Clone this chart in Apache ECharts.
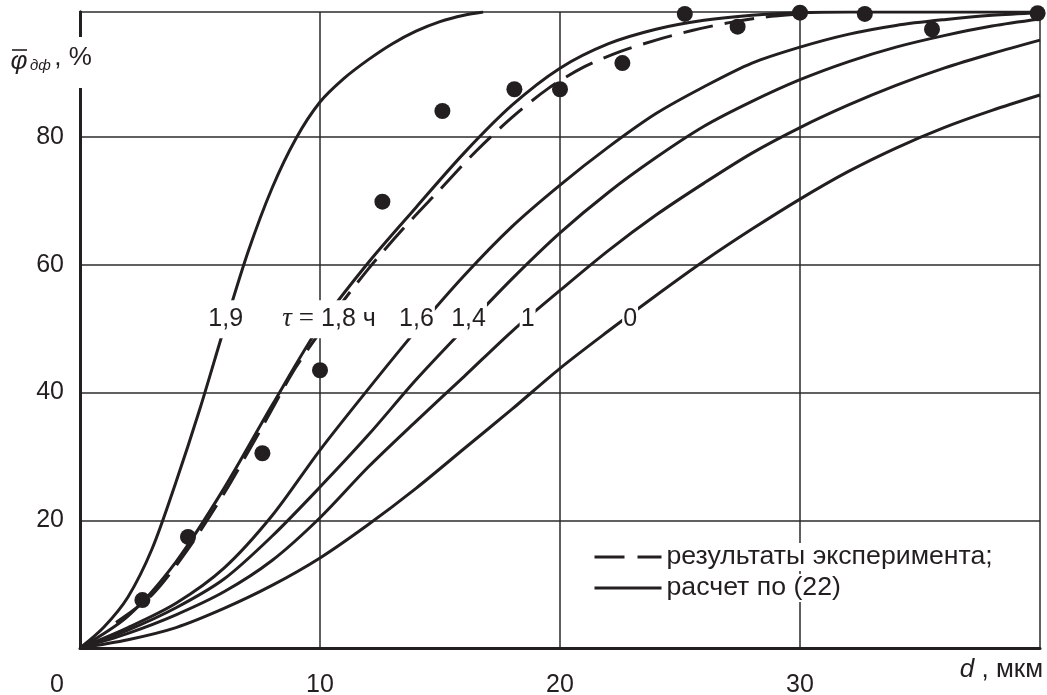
<!DOCTYPE html>
<html><head><meta charset="utf-8">
<script src="https://cdn.jsdelivr.net/npm/echarts@6/dist/echarts.min.js"></script>
<style>html,body{margin:0;padding:0;background:#fff}#c{width:1047px;height:695px}</style>
</head><body><div id="c"></div>
<script>
// ---- data ----
const xTickLabels = [0, 10, 20, 30];
const yTickLabels = [20, 40, 60, 80];

const tau19 = [[0,0],[1,3.3],[2,8],[3,15.5],[4,26],[5,37.5],[6,50],[7,62],[8,72],[9,79.8],[10,85.5],[11,89.2],[12,92.1],[13,94.6],[14,96.6],[15,98.1],[16,99.1],[16.8,99.6]];
const tau18 = [[0,0],[2,5],[4,13.5],[6,25],[8,38],[10,50.5],[12,60.3],[14,69],[16,77.5],[18,85],[20,90.8],[22,94.6],[24,96.9],[26,98.3],[28,99.1],[30,99.5],[32,99.6],[34,99.6],[36,99.6],[38,99.6],[40,99.6]];
const tau16 = [[0,0],[2,3.2],[4,7],[6,12.5],[8,20.7],[10,31],[12,40.5],[14,49.7],[16,58.3],[18,66],[20,72.5],[22,78.4],[24,83.7],[26,87.9],[28,91.6],[30,94.1],[32,96.1],[34,97.5],[36,98.4],[38,99.1],[40,99.5]];
const tau14 = [[0,0],[2,2.8],[4,6.3],[6,10.8],[8,17.5],[10,25.2],[12,33.3],[14,42],[16,50],[18,57.8],[20,65],[22,71.3],[24,76.8],[26,81.7],[28,85.6],[30,89],[32,91.8],[34,94.1],[36,95.9],[38,97.4],[40,98.5]];
const tau10 = [[0,0],[2,2.3],[4,5.2],[6,8.8],[8,13.7],[10,20.4],[12,28.3],[14,35.5],[16,42.5],[18,49.6],[20,56],[22,62.2],[24,67.8],[26,72.8],[28,77.5],[30,81.5],[32,85],[34,88.1],[36,90.8],[38,93.1],[40,95.2]];
const tau0  = [[0,0],[2,1.3],[4,3.2],[6,6.2],[8,9.8],[10,14.1],[12,19.3],[14,25],[16,31.2],[18,37.4],[20,43.8],[22,49.6],[24,55.2],[26,60.6],[28,65.6],[30,70.3],[32,74.6],[34,78.3],[36,81.5],[38,84.2],[40,86.6]];
const expCurve = [[1.5,4],[3,8.3],[4.5,15.5],[6,24.2],[7.5,34],[9,44],[10.5,52],[12,59.3],[13.5,65.8],[15,71.8],[16.5,77.8],[18,83.1],[19.5,87.6],[21,91],[22.5,93.4],[24,95.2],[25.5,96.7],[27,97.9],[28.5,98.8],[30,99.3]];
const expX = [2.6, 4.5, 7.6, 10.0, 12.6, 15.1, 18.1, 20.0, 22.6, 25.2, 27.4, 30.0, 32.7, 35.5, 39.9];
const expY = [7.5, 17.4, 30.5, 43.5, 69.9, 84.1, 87.5, 87.5, 91.6, 99.3, 97.3, 99.5, 99.3, 96.9, 99.4];

const curveLabelText = ['1,9', 'τ = 1,8 ч', '1,6', '1,4', '1', '0'];
const curveLabelX = [6.07, 10.375, 14.02, 16.19, 18.65, 22.92];
const curveLabelY = [51.5, 51.5, 51.5, 51.5, 51.5, 51.5];

const legendExp = 'результаты эксперимента;';
const legendCalc = 'расчет по (22)';

// ---- chart ----
const INK = '#231f20';
const GRID = '#2b2b2b';
const FONT = '"Liberation Sans", Arial, sans-serif';
const SERIF = '"Liberation Serif", "Times New Roman", serif';
const DASH = [30, 12];

function curve(name, data) {
  return {
    type: 'line', name: name, data: data, symbol: 'none',
    smooth: 0.3, silent: true, z: 3,
    lineStyle: { color: INK, width: 3 }, itemStyle: { color: INK }
  };
}

const chart = echarts.init(document.getElementById('c'), null, { renderer: 'canvas' });
chart.setOption({
  animation: false,
  backgroundColor: '#fff',
  textStyle: { fontFamily: FONT },
  grid: { left: 80, right: 7, top: 12, bottom: 47, containLabel: false, outerBoundsMode: 'none' },
  legend: {
    orient: 'vertical', left: 588, top: 538,
    itemWidth: 67, itemHeight: 14, itemGap: 3,
    selectedMode: false,
    itemStyle: { color: 'rgba(0,0,0,0)', borderWidth: 0, opacity: 0 },
    data: [
      { name: legendExp, lineStyle: { color: INK, width: 3, type: [30, 13], opacity: 1 } },
      { name: legendCalc, lineStyle: { color: INK, width: 3, type: 'solid', opacity: 1 } }
    ],
    textStyle: { fontSize: 26.7, color: INK, fontFamily: FONT, lineHeight: 28, backgroundColor: '#fff' }
  },
  xAxis: {
    type: 'value', min: 0, max: 40, interval: 10,
    name: '{i|d} , мкм', nameLocation: 'end', nameGap: 3,
    nameTextStyle: {
      fontSize: 26, color: INK, fontFamily: FONT, align: 'right', verticalAlign: 'middle',
      padding: [44, 0, 0, 0],
      rich: { i: { fontStyle: 'italic', fontSize: 26, color: INK, fontFamily: FONT } }
    },
    axisLine: { show: true, onZero: false, lineStyle: { color: INK, width: 3 } },
    axisTick: { show: false },
    splitLine: { show: true, lineStyle: { color: GRID, width: 1.5 } },
    axisLabel: {
      margin: 25, fontSize: 25, color: INK, fontFamily: FONT,
      formatter: function (v) {
        if (v === 0) return '{z|0}';
        return xTickLabels.indexOf(v) >= 0 ? String(v) : '';
      },
      rich: { z: { padding: [0, 46, 0, 0], fontSize: 25, color: INK, fontFamily: FONT } }
    }
  },
  yAxis: [{
    type: 'value', min: 0, max: 99.6, interval: 20,
    axisLine: { show: true, onZero: false, lineStyle: { color: INK, width: 3 } },
    axisTick: { show: false },
    splitLine: { show: true, lineStyle: { color: GRID, width: 1.5 } },
    axisLabel: {
      margin: 16, fontSize: 25, color: INK, fontFamily: FONT,
      formatter: function (v) { return yTickLabels.indexOf(v) >= 0 ? String(v) : ''; }
    }
  }, {
    type: 'value', position: 'right', min: 0, max: 99.6,
    axisLine: { show: true, lineStyle: { color: INK, width: 3 } },
    axisTick: { show: false }, axisLabel: { show: false }, splitLine: { show: false }
  }],
  series: [
    curve('τ = 1,9', tau19),
    curve(legendCalc, tau18),
    curve('τ = 1,6', tau16),
    curve('τ = 1,4', tau14),
    curve('τ = 1', tau10),
    curve('τ = 0', tau0),
    {
      type: 'line', name: legendExp, data: expCurve, symbol: 'none',
      smooth: 0.3, silent: true, z: 4,
      lineStyle: { color: INK, width: 3, type: DASH }, itemStyle: { color: INK }
    },
    {
      type: 'scatter', name: 'labels', silent: true, z: 10,
      symbolSize: 1, itemStyle: { color: 'rgba(0,0,0,0)', opacity: 1 },
      data: curveLabelText.map(function (t, i) { return { name: t, value: [curveLabelX[i], curveLabelY[i]] }; }),
      label: {
        show: true, position: 'inside', color: INK, opacity: 1, fontSize: 25, fontFamily: FONT,
        lineHeight: 38, backgroundColor: '#fff', padding: [0, 1],
        formatter: function (p) { return p.name.replace('τ', '{t|τ}').replace('=', '{e|=}'); },
        rich: {
          t: { fontFamily: SERIF, fontStyle: 'italic', fontSize: 27, lineHeight: 38, color: INK },
          e: { fontFamily: SERIF, fontSize: 27, lineHeight: 38, color: INK }
        }
      }
    },
    {
      type: 'scatter', name: 'points', silent: true, z: 11,
      symbol: 'circle', symbolSize: 16, itemStyle: { color: INK, opacity: 1 },
      data: expX.map(function (x, i) { return [x, expY[i]]; })
    }
  ],
  graphic: [
    { type: 'rect', z: 100, shape: { x: 74, y: 37, width: 12, height: 51 }, style: { fill: '#fff' } },
    { type: 'text', z: 101, x: 19, y: 62, style: { text: 'φ', font: 'italic 26px ' + FONT, fill: INK, align: 'center', verticalAlign: 'middle' } },
    { type: 'line', z: 101, shape: { x1: 12, y1: 50, x2: 27, y2: 50 }, style: { stroke: INK, lineWidth: 1.6 } },
    { type: 'text', z: 101, x: 30, y: 66, style: { text: 'дф', font: 'italic 15px ' + FONT, fill: INK, align: 'left', verticalAlign: 'middle' } },
    { type: 'text', z: 101, x: 47, y: 58, style: { text: ' , %', font: '26px ' + FONT, fill: INK, align: 'left', verticalAlign: 'middle' } }
  ]
});
</script>
</body></html>
